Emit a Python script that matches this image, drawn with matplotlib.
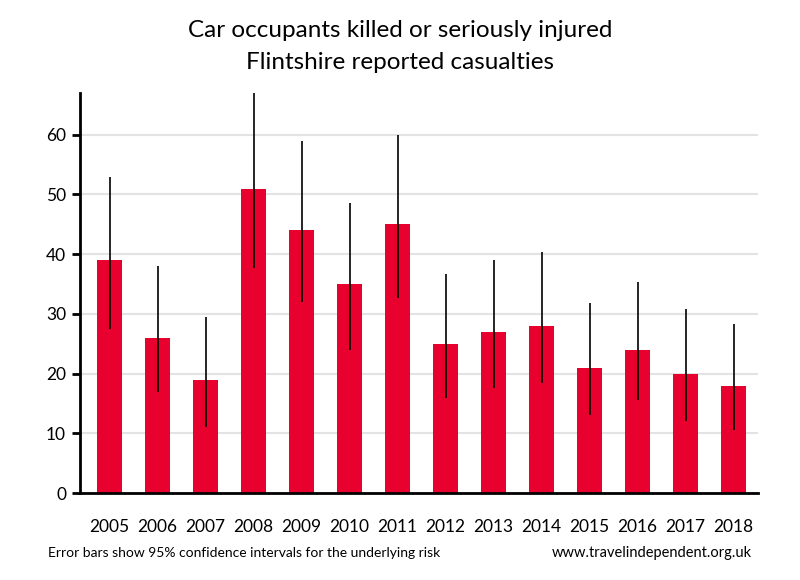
import matplotlib.pyplot as plt
import numpy as np

# данные
years = ['2005', '2006', '2007', '2008', '2009', '2010', '2011',
         '2012', '2013', '2014', '2015', '2016', '2017', '2018']
casualties = [39, 26, 19, 51, 44, 35, 45, 25, 27, 28, 21, 24, 20, 18]
ci_low = [27.5, 17, 11, 37.7, 32, 24, 32.7, 15.9, 17.6, 18.4, 13, 15.5, 12, 10.5]
ci_high = [53, 38, 29.5, 67, 58.9, 48.5, 60, 36.6, 39.1, 40.3, 31.9, 35.4, 30.8, 28.3]

plt.rcParams['font.family'] = ['Lato', 'DejaVu Sans']

fig = plt.figure(figsize=(8, 5.8), dpi=100)
ax = fig.add_axes([0.1, 0.15, 0.8475, 0.6897])

x = np.arange(len(years))
vals = np.array(casualties)
yerr = [vals - np.array(ci_low), np.array(ci_high) - vals]

ax.bar(x, vals, width=0.52, color='#E8002F', zorder=2)
ax.errorbar(x, vals, yerr=yerr, fmt='none', ecolor='black', elinewidth=1.2,
            capsize=0, zorder=3)

ax.set_xlim(-0.615, 13.51)
ax.set_ylim(0, 67)
ax.set_yticks([0, 10, 20, 30, 40, 50, 60])
ax.set_xticks(x)
ax.set_xticklabels(years)
ax.tick_params(axis='x', length=0, pad=19, labelsize=12.5)
ax.tick_params(axis='y', length=6, width=2, labelsize=12.5, pad=4)

ax.yaxis.grid(True, color='#e3e3e3', linewidth=1.5, zorder=0)
ax.set_axisbelow(True)

for s in ['top', 'right']:
    ax.spines[s].set_visible(False)
for s in ['left', 'bottom']:
    ax.spines[s].set_linewidth(2)
    ax.spines[s].set_color('black')

fig.text(0.5, 0.947, 'Car occupants killed or seriously injured', ha='center',
         va='center', fontsize=17.5)
fig.text(0.5, 0.892, 'Flintshire reported casualties', ha='center',
         va='center', fontsize=17.5)

fig.text(0.06, 0.046, 'Error bars show 95% confidence intervals for the underlying risk',
         ha='left', va='center', fontsize=10)
fig.text(0.94, 0.046, 'www.travelindependent.org.uk', ha='right', va='center',
         fontsize=10.5)

fig.savefig('out.png', dpi=100)
